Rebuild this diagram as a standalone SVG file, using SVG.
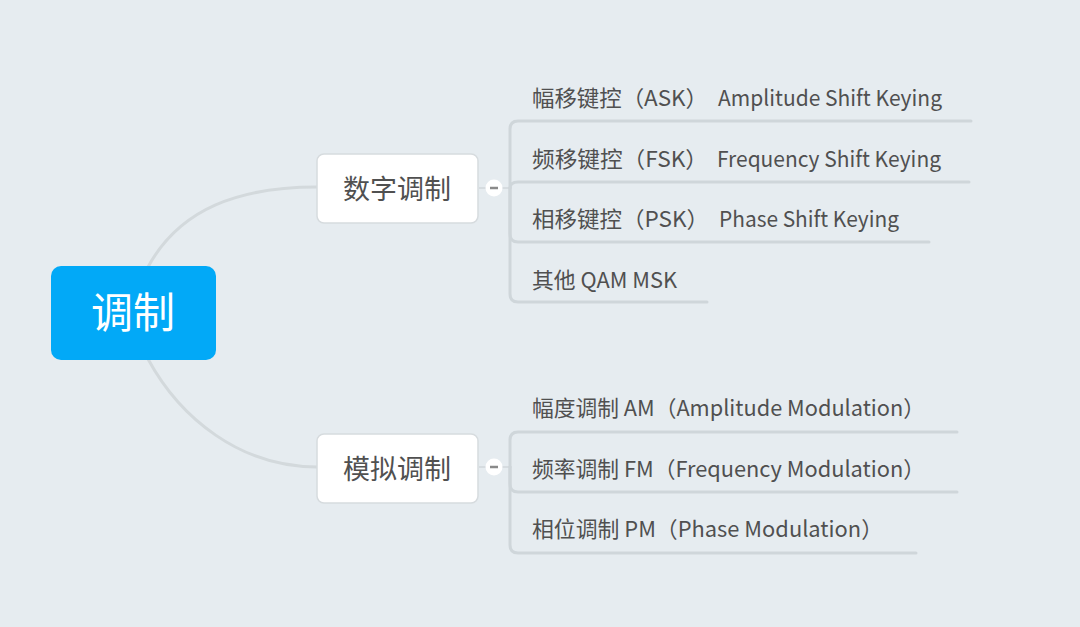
<svg xmlns="http://www.w3.org/2000/svg" width="1080" height="627" viewBox="0 0 1080 627">
<style>
.bg{fill:#e6ecf0}
.line{fill:none;stroke:#cfd6da;stroke-width:3;stroke-linecap:round}
.curve{fill:none;stroke:#d3d9dc;stroke-width:3}
.stub{fill:none;stroke:#d6dce0;stroke-width:2}
.box{fill:#ffffff;stroke:#d6dbde;stroke-width:1.5}
.t{font-family:"Noto Sans CJK SC","Noto Sans",sans-serif;fill:#505050}
.leaf{font-size:22px}
.mid{font-size:27px}
.ctl{fill:#ffffff}
.dash{stroke:#8a8a8a;stroke-width:2.5}
</style>
<rect class="bg" x="0" y="0" width="1080" height="627"/>
<g id="connectors">
  <path class="curve" d="M148,267 C180,208 240,187 317,187"/>
  <path class="curve" d="M148,359 C180,418 240,467 317,467"/>
  <path class="stub" d="M479,188 H486 M501,188 H510"/>
  <path class="stub" d="M479,467 H486 M501,467 H510"/>
  <path class="line" d="M510,188 V129 Q510,121 518,121 H971"/>
  <path class="line" d="M510,188 Q510,182 518,182 H969"/>
  <path class="line" d="M510,188 V234 Q510,242 518,242 H929"/>
  <path class="line" d="M510,188 V294 Q510,302 518,302 H707"/>
  <path class="line" d="M510,467 V440 Q510,432 518,432 H957"/>
  <path class="line" d="M510,467 V484 Q510,492 518,492 H957"/>
  <path class="line" d="M510,467 V545 Q510,553 518,553 H916"/>
</g>
<g id="root">
  <rect x="51" y="266" width="165" height="94" rx="10" fill="#02a9f7"/>
  <text class="t" x="133" y="328" font-size="42" text-anchor="middle" style="fill:#ffffff">调制</text>
</g>
<g id="digital">
  <rect class="box" x="317" y="154" width="161" height="69" rx="7"/>
  <text class="t mid" x="397" y="199" text-anchor="middle">数字调制</text>
  <circle class="ctl" cx="494" cy="188" r="8.5"/>
  <line class="dash" x1="490" y1="188" x2="498" y2="188"/>
</g>
<g id="analog">
  <rect class="box" x="317" y="434" width="161" height="69" rx="7"/>
  <text class="t mid" x="397" y="479" text-anchor="middle">模拟调制</text>
  <circle class="ctl" cx="494" cy="467" r="8.5"/>
  <line class="dash" x1="490" y1="467" x2="498" y2="467"/>
</g>
<g id="ask">
  <text class="t leaf" x="532" y="106" textLength="176" lengthAdjust="spacingAndGlyphs">幅移键控（ASK）</text>
  <text class="t leaf" x="718" y="106" textLength="224" lengthAdjust="spacingAndGlyphs">Amplitude Shift Keying</text>
</g>
<g id="fsk">
  <text class="t leaf" x="532" y="167" textLength="176" lengthAdjust="spacingAndGlyphs">频移键控（FSK）</text>
  <text class="t leaf" x="717" y="167" textLength="224" lengthAdjust="spacingAndGlyphs">Frequency Shift Keying</text>
</g>
<g id="psk">
  <text class="t leaf" x="532" y="227" textLength="177" lengthAdjust="spacingAndGlyphs">相移键控（PSK）</text>
  <text class="t leaf" x="719" y="227" textLength="180" lengthAdjust="spacingAndGlyphs">Phase Shift Keying</text>
</g>
<g id="other"><text class="t leaf" x="532" y="288" textLength="145" lengthAdjust="spacingAndGlyphs">其他 QAM MSK</text></g>
<g id="am"><text class="t leaf" x="532" y="416" textLength="393" lengthAdjust="spacingAndGlyphs">幅度调制 AM（Amplitude Modulation）</text></g>
<g id="fm"><text class="t leaf" x="532" y="477" textLength="393" lengthAdjust="spacingAndGlyphs">频率调制 FM（Frequency Modulation）</text></g>
<g id="pm"><text class="t leaf" x="532" y="537" textLength="351" lengthAdjust="spacingAndGlyphs">相位调制 PM（Phase Modulation）</text></g>
</svg>
